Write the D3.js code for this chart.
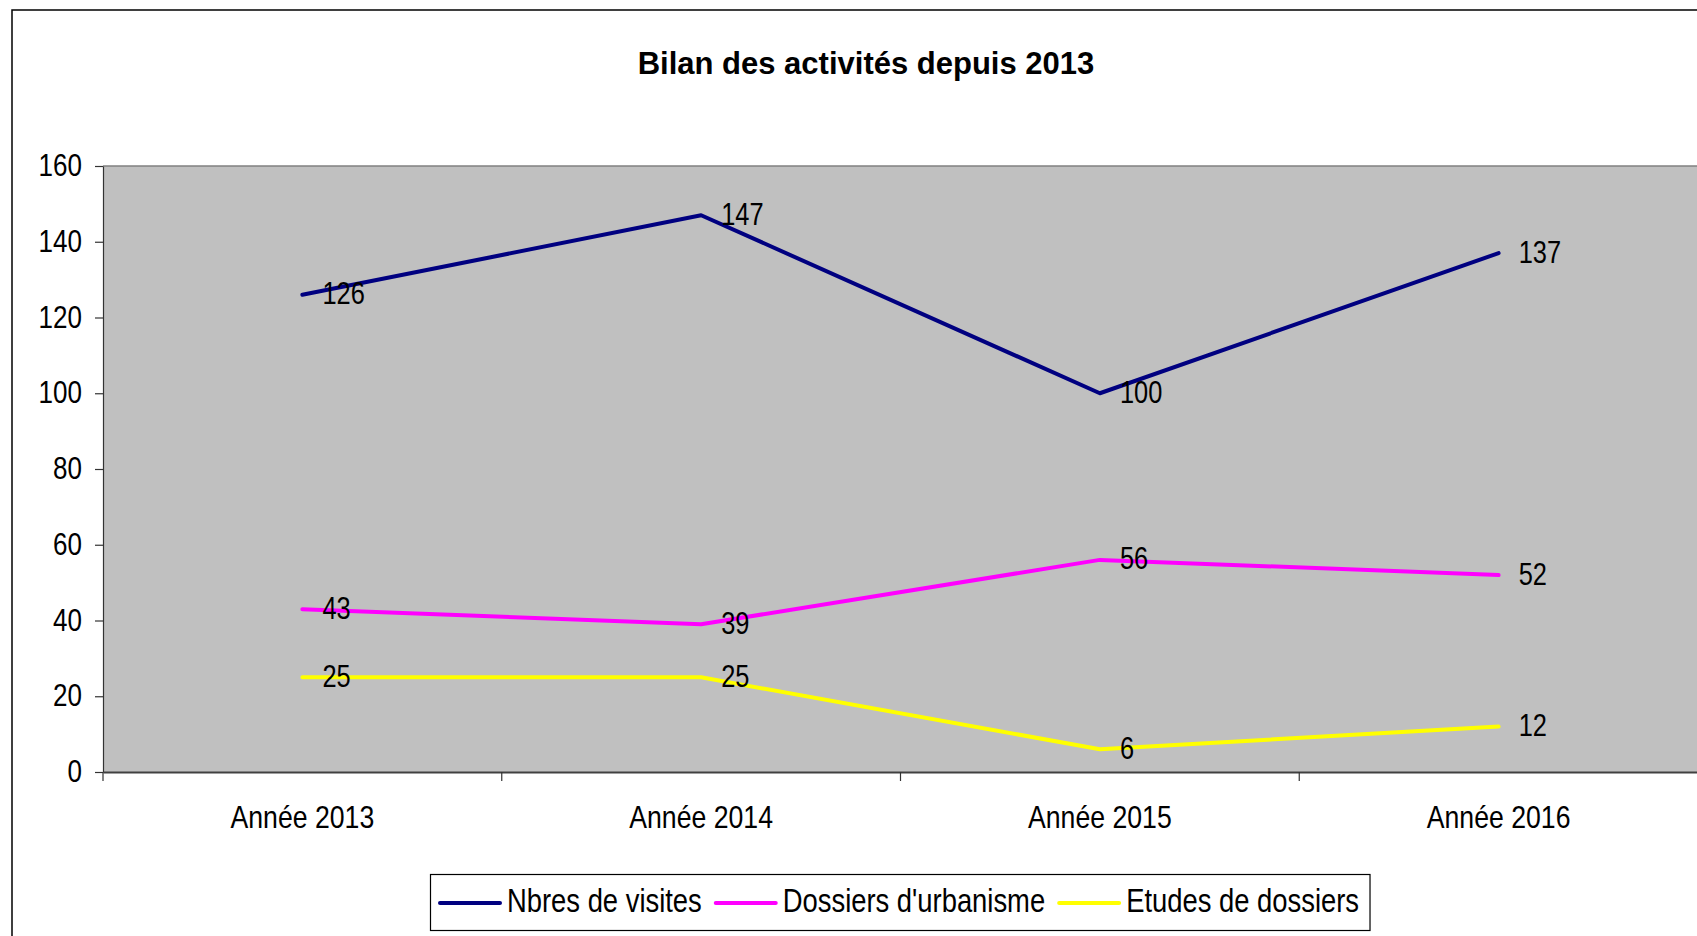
<!DOCTYPE html>
<html>
<head>
<meta charset="utf-8">
<script src="https://cdn.jsdelivr.net/npm/d3@7"></script>
<style>
  html, body { margin: 0; padding: 0; background: #ffffff; overflow: hidden; }
  svg { display: block; }
  text { font-family: "Liberation Sans", Arial, sans-serif; fill: #000; }
</style>
</head>
<body>
<svg id="chart" width="1697" height="936"></svg>
<script>
const title = "Bilan des activités depuis 2013";
const categories = ["Année 2013", "Année 2014", "Année 2015", "Année 2016"];
const seriesNames = ["Nbres de visites", "Dossiers d'urbanisme", "Etudes de dossiers"];
const visites = [126, 147, 100, 137];
const urbanisme = [43, 39, 56, 52];
const etudes = [25, 25, 6, 12];
const yTicks = [0, 20, 40, 60, 80, 100, 120, 140, 160];
const colors = ["#000080", "#FF00FF", "#FFFF00"];

const series = [visites, urbanisme, etudes].map((vals, i) => ({
  name: seriesNames[i], color: colors[i], values: vals
}));

const svg = d3.select("#chart");
const plot = { left: 103, top: 166, right: 1698, bottom: 772 };
const SX = 0.84; // horizontal condensing of the text glyphs

// outer chart frame
svg.append("rect")
  .attr("x", 12).attr("y", 10)
  .attr("width", 1750).attr("height", 1000)
  .attr("fill", "#ffffff").attr("stroke", "#000").attr("stroke-width", 1.5);

// title
svg.append("text")
  .attr("x", 866).attr("y", 74)
  .attr("text-anchor", "middle")
  .attr("font-size", 31).attr("font-weight", "bold")
  .text(title);

const x = d3.scaleBand().domain(categories).range([plot.left, plot.right]).paddingInner(0).paddingOuter(0);
const y = d3.scaleLinear().domain([0, 160]).range([plot.bottom, plot.top]);
const cx = c => x(c) + x.bandwidth() / 2;

// plot area background
svg.append("rect")
  .attr("x", plot.left).attr("y", plot.top)
  .attr("width", plot.right - plot.left).attr("height", plot.bottom - plot.top)
  .attr("fill", "#C0C0C0");
svg.append("line")
  .attr("x1", plot.left).attr("x2", plot.right)
  .attr("y1", plot.top).attr("y2", plot.top)
  .attr("stroke", "#808080").attr("stroke-width", 1.5);

// Y axis
const yAxis = d3.axisLeft(y).tickValues(yTicks).tickSize(8).tickSizeOuter(0).tickPadding(13);
const gy = svg.append("g").attr("transform", `translate(${plot.left},0)`).call(yAxis);
gy.select(".domain").attr("stroke", "#333").attr("stroke-width", 1.2);
gy.selectAll(".tick line").attr("stroke", "#333").attr("stroke-width", 1.2);
gy.selectAll(".tick text")
  .attr("x", 0).attr("dy", null)
  .attr("transform", `translate(-21,9.5) scale(${SX},1)`)
  .attr("font-size", 31)
  .attr("font-family", "Liberation Sans, Arial, sans-serif")
  .attr("fill", "#000");

// X axis
const xAxis = d3.axisBottom(x).tickSize(0).tickSizeOuter(0).tickPadding(0);
const gx = svg.append("g").attr("transform", `translate(0,${plot.bottom})`).call(xAxis);
gx.select(".domain").attr("stroke", "#404040").attr("stroke-width", 2.2);
gx.selectAll(".tick text")
  .attr("y", 0).attr("dy", null)
  .attr("transform", `translate(0,56) scale(${SX + 0.02},1)`)
  .attr("font-size", 31)
  .attr("font-family", "Liberation Sans, Arial, sans-serif")
  .attr("fill", "#000");
// category boundary tick marks
const boundaries = categories.map(c => x(c));
svg.append("g").selectAll("line").data(boundaries).join("line")
  .attr("x1", d => d).attr("x2", d => d)
  .attr("y1", plot.bottom).attr("y2", plot.bottom + 9)
  .attr("stroke", "#333").attr("stroke-width", 1.2);

// lines
const line = d3.line().x((d, i) => cx(categories[i])).y(d => y(d));
svg.append("g").selectAll("path").data(series).join("path")
  .attr("d", d => line(d.values))
  .attr("fill", "none")
  .attr("stroke", d => d.color)
  .attr("stroke-width", 4)
  .attr("stroke-linejoin", "round")
  .attr("stroke-linecap", "round");

// data labels
const labels = [];
series.forEach(s => s.values.forEach((v, i) => labels.push({ v, x: cx(categories[i]), y: y(v) })));
svg.append("g").selectAll("text").data(labels).join("text")
  .attr("transform", d => `translate(${d.x + 20},${d.y + 9.5}) scale(${SX - 0.02},1)`)
  .attr("font-size", 31)
  .text(d => d.v);

// legend
const legend = svg.append("g");
const legBox = legend.append("rect")
  .attr("x", 430.5).attr("y", 874.5).attr("height", 56)
  .attr("fill", "#fff").attr("stroke", "#000").attr("stroke-width", 1.2);
let lx = 440;
const LSX = 0.83;
series.forEach((s, i) => {
  legend.append("line")
    .attr("x1", lx).attr("x2", lx + 60)
    .attr("y1", 903).attr("y2", 903)
    .attr("stroke", s.color).attr("stroke-width", 4).attr("stroke-linecap", "round");
  const t = legend.append("text")
    .attr("transform", `translate(${lx + 67},912) scale(${LSX},1)`)
    .attr("font-size", 33)
    .text(s.name);
  const w = t.node().getComputedTextLength() * LSX;
  lx = lx + 67 + w + (i < series.length - 1 ? 14 : 11);
});
legBox.attr("width", lx - 430.5);
</script>
</body>
</html>
